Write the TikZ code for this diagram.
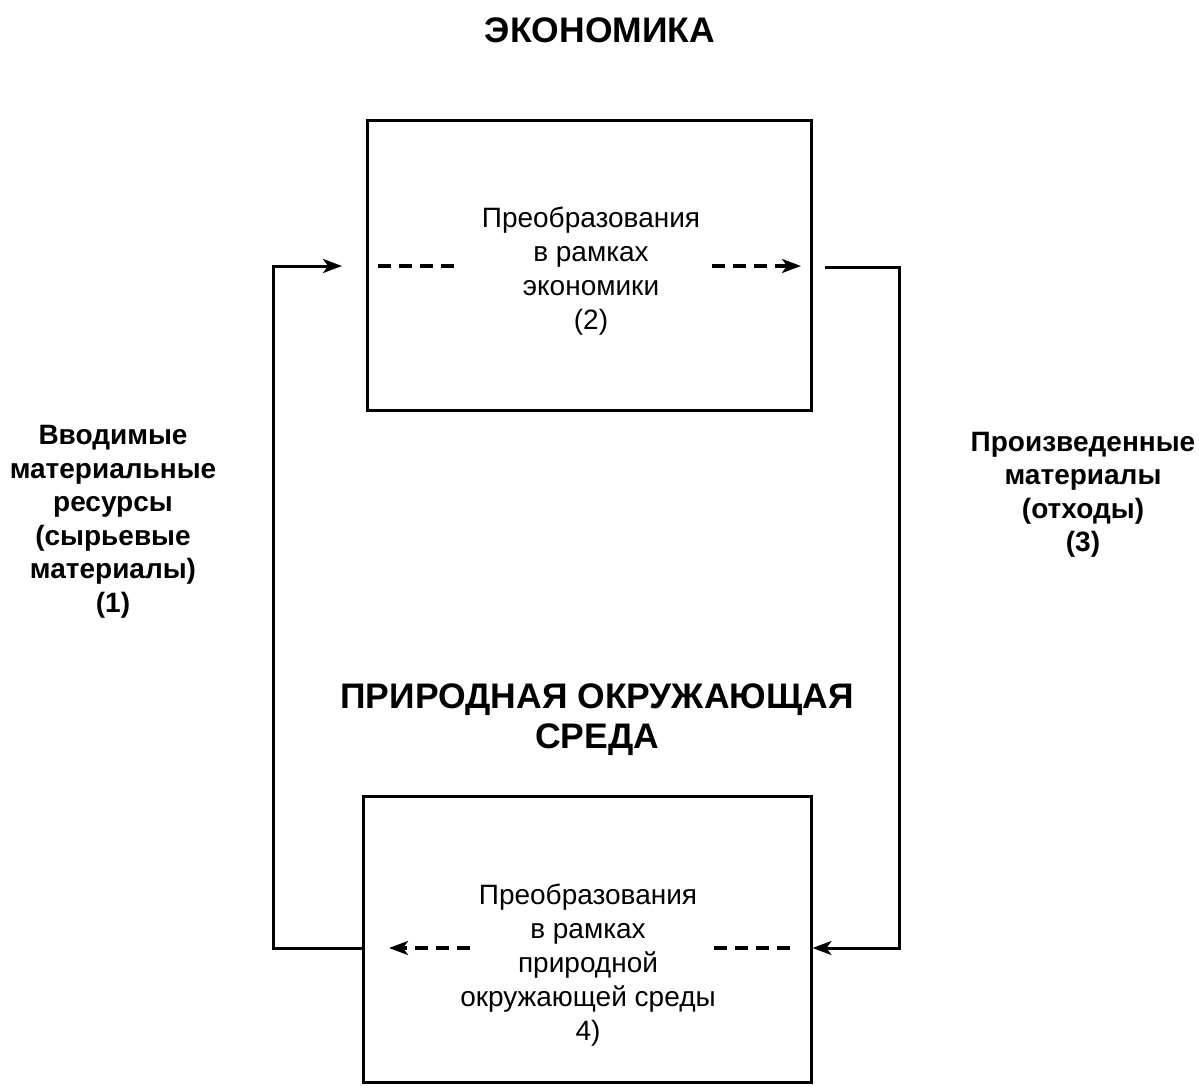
\documentclass[tikz,border=0pt]{standalone}
\usepackage{fontspec}
\setmainfont{Liberation Sans}
\usetikzlibrary{arrows.meta}
\begin{document}
\begin{tikzpicture}[x=1pt,y=-1pt,
  frame/.style={draw,line width=3pt},
  flow/.style={line width=3pt},
  tip/.style={-{Stealth[length=19pt,width=14pt,inset=5pt]}},
  dashline/.style={line width=3.2pt,dash pattern=on 13pt off 8pt},
  body/.style={align=center,font=\fontsize{28}{34}\selectfont},
  side/.style={align=center,font=\fontsize{28}{33.5}\selectfont\bfseries},
  head/.style={align=center,font=\fontsize{35.5}{40}\selectfont\bfseries}]
\useasboundingbox (0,0) rectangle (1199,1085);

% headings
\node[head] (t1) at (600,30) {ЭКОНОМИКА};
\node[head] (t2) at (597,720) {ПРИРОДНАЯ ОКРУЖАЮЩАЯ\\СРЕДА};

% the two boxes
\node[frame,minimum width=444pt,minimum height=290pt] (econ) at (589,265) {};
\node[frame,minimum width=448pt,minimum height=286pt] (nat) at (587,939) {};

\node[body] (econtxt) at (591,271) {Преобразования\\в рамках\\экономики\\(2)};
\node[body] (nattxt) at (588,965) {Преобразования\\в рамках\\природной\\окружающей среды\\4)};

% side labels
\node[side] (in) at (113,522) {Вводимые\\материальные\\ресурсы\\(сырьевые\\материалы)\\(1)};
\node[side] (out) at (1083,495) {Произведенные\\материалы\\(отходы)\\(3)};

% loop points
\coordinate (lt) at (273,266);
\coordinate (lb) at (273,948);
\coordinate (inend) at (342,266);
\coordinate (rt) at (899,267);
\coordinate (rb) at (899,948);
\coordinate (rs) at (825,267);

% raw materials into the economy
\draw[flow,tip] (nat.west |- lb) -- (lb) -- (lt) -- (inend);
% waste back into nature
\draw[flow,tip] (rs) -- (rt) -- (rb) -- (nat.east |- rb);

% internal transformations
\coordinate (e1) at (378,266);
\coordinate (e2) at (454,266);
\coordinate (e3) at (712,266);
\coordinate (e4) at (801,266);
\draw[dashline] (e1) -- (e2);
\draw[dashline,tip] (e3) -- (e4);

\coordinate (n1) at (790,948);
\coordinate (n2) at (714,948);
\coordinate (n3) at (470,948);
\coordinate (n4) at (389,948);
\draw[dashline] (n1) -- (n2);
\draw[dashline,tip] (n3) -- (n4);
\end{tikzpicture}
\end{document}
